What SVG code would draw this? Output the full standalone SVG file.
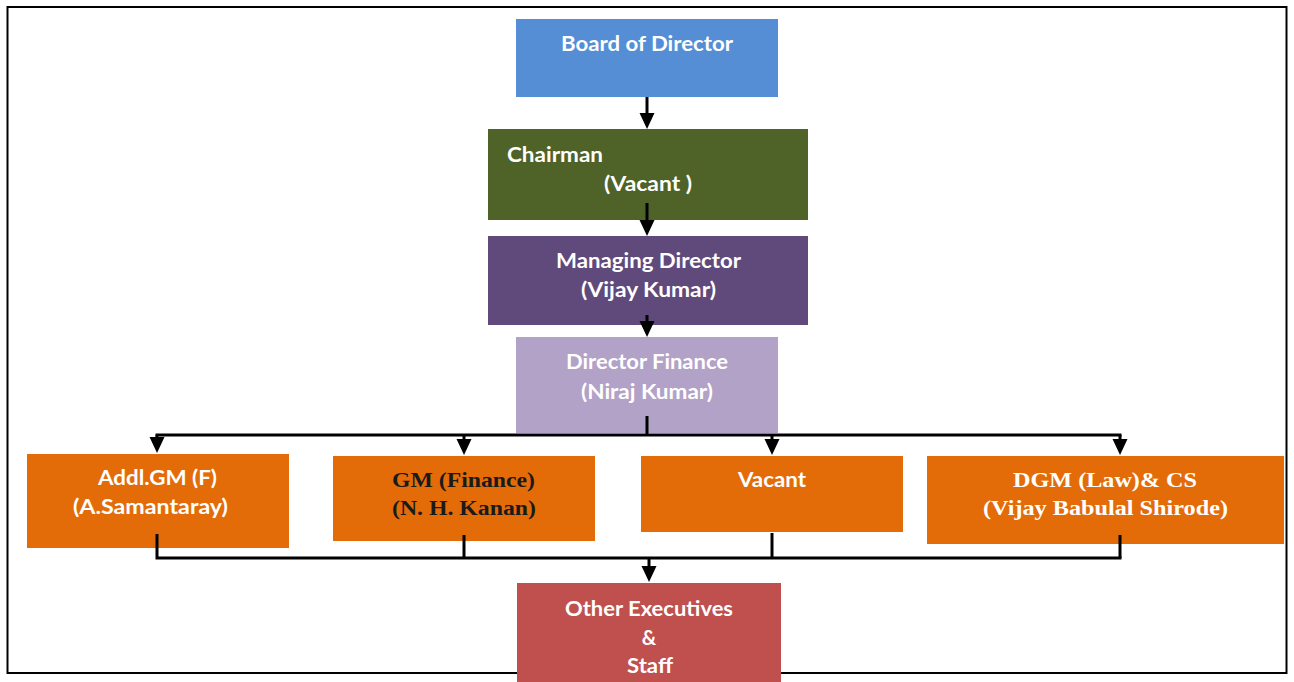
<svg xmlns="http://www.w3.org/2000/svg" width="1294" height="682" viewBox="0 0 1294 682">
  <defs>
    <marker id="arrow" markerUnits="userSpaceOnUse" markerWidth="16" markerHeight="16" refX="0" refY="7.5" orient="auto">
      <path d="M0,0 L16,7.5 L0,15 z" fill="#000"/>
    </marker>
    <style>
      .lbl { font-family: Lato, "Open Sans", "Liberation Sans", sans-serif; font-weight: bold; font-size: 20px; fill: #fff; text-anchor: middle; }
      .serif { font-family: "Liberation Serif", "DejaVu Serif", serif; font-weight: bold; font-size: 22px; text-anchor: middle; }
      .wire { fill: none; stroke: #000; stroke-width: 3; }
      .frame { fill: none; stroke: #000; stroke-width: 2; }
    </style>
  </defs>

  <rect width="1294" height="682" fill="#fff"/>
  <rect class="frame" x="7.5" y="7" width="1279" height="666"/>

  <g id="board">
    <rect x="516" y="19" width="262" height="78" fill="#558ED5"/>
    <text class="lbl" x="647" y="51" textLength="172" lengthAdjust="spacingAndGlyphs">Board of Director</text>
  </g>

  <g id="chairman">
    <rect x="488" y="129" width="320" height="91" fill="#4F6228"/>
    <text class="lbl" x="555" y="162" textLength="96" lengthAdjust="spacingAndGlyphs">Chairman</text>
    <text class="lbl" x="648" y="191" textLength="88" lengthAdjust="spacingAndGlyphs">(Vacant )</text>
  </g>

  <g id="managing-director">
    <rect x="488" y="236" width="320" height="89" fill="#604A7B"/>
    <text class="lbl" x="648.5" y="268" textLength="185" lengthAdjust="spacingAndGlyphs">Managing Director</text>
    <text class="lbl" x="648.5" y="297" textLength="135" lengthAdjust="spacingAndGlyphs">(Vijay Kumar)</text>
  </g>

  <g id="director-finance">
    <rect x="516" y="337" width="262" height="96" fill="#B2A2C7"/>
    <text class="lbl" x="647" y="369" textLength="162" lengthAdjust="spacingAndGlyphs">Director Finance</text>
    <text class="lbl" x="647" y="399" textLength="132" lengthAdjust="spacingAndGlyphs">(Niraj Kumar)</text>
  </g>

  <g id="addl-gm">
    <rect x="27" y="454" width="262" height="94" fill="#E36C09"/>
    <text class="lbl" x="157.5" y="485" textLength="119" lengthAdjust="spacingAndGlyphs">Addl.GM (F)</text>
    <text class="lbl" x="150.5" y="514" textLength="155" lengthAdjust="spacingAndGlyphs">(A.Samantaray)</text>
  </g>

  <g id="gm-finance">
    <rect x="333" y="456" width="262" height="85" fill="#E36C09"/>
    <text class="serif" x="463.5" y="487" fill="#1a1a1a" textLength="143" lengthAdjust="spacingAndGlyphs">GM (Finance)</text>
    <text class="serif" x="464" y="515" fill="#1a1a1a" textLength="144" lengthAdjust="spacingAndGlyphs">(N. H. Kanan)</text>
  </g>

  <g id="vacant">
    <rect x="641" y="456" width="262" height="76" fill="#E36C09"/>
    <text class="lbl" x="772" y="487" textLength="68" lengthAdjust="spacingAndGlyphs">Vacant</text>
  </g>

  <g id="dgm-law">
    <rect x="927" y="456" width="357" height="88" fill="#E36C09"/>
    <text class="serif" x="1105" y="487" fill="#fff" textLength="184" lengthAdjust="spacingAndGlyphs">DGM (Law)&amp; CS</text>
    <text class="serif" x="1105.5" y="515" fill="#fff" textLength="245" lengthAdjust="spacingAndGlyphs">(Vijay Babulal Shirode)</text>
  </g>

  <g id="other-executives">
    <rect x="517" y="583" width="264" height="110" fill="#C0504D"/>
    <text class="lbl" x="649" y="616" textLength="168" lengthAdjust="spacingAndGlyphs">Other Executives</text>
    <text class="lbl" x="649" y="645">&amp;</text>
    <text class="lbl" x="650" y="673" textLength="46" lengthAdjust="spacingAndGlyphs">Staff</text>
  </g>

  <!-- connectors sit above the boxes so the stubs inside them stay visible -->
  <g id="connectors">
    <line class="wire" x1="647" y1="97" x2="647" y2="113" marker-end="url(#arrow)"/>
    <line class="wire" x1="647" y1="203" x2="647" y2="220" marker-end="url(#arrow)"/>
    <line class="wire" x1="647" y1="315" x2="647" y2="321" marker-end="url(#arrow)"/>
    <polyline class="wire" points="647,416 647,435"/>
    <line class="wire" x1="155.5" y1="435" x2="1121.5" y2="435"/>
    <line class="wire" x1="157" y1="435" x2="157" y2="437" marker-end="url(#arrow)"/>
    <line class="wire" x1="464" y1="435" x2="464" y2="439" marker-end="url(#arrow)"/>
    <line class="wire" x1="772" y1="435" x2="772" y2="439" marker-end="url(#arrow)"/>
    <line class="wire" x1="1120" y1="435" x2="1120" y2="439" marker-end="url(#arrow)"/>
    <polyline class="wire" points="157,534 157,558 1121.5,558"/>
    <line class="wire" x1="464" y1="535" x2="464" y2="558"/>
    <line class="wire" x1="772" y1="533" x2="772" y2="558"/>
    <line class="wire" x1="1120" y1="535" x2="1120" y2="558"/>
    <line class="wire" x1="649" y1="558" x2="649" y2="566" marker-end="url(#arrow)"/>
  </g>
</svg>
